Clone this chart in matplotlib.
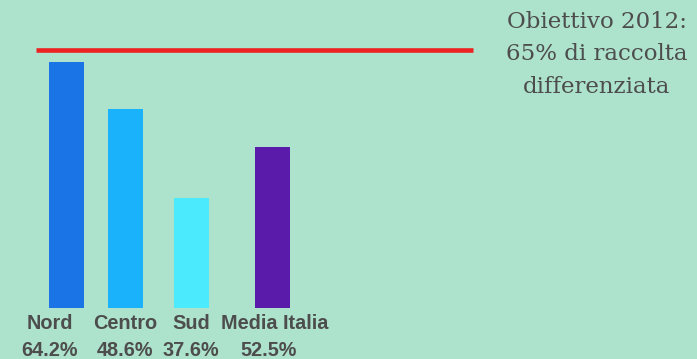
import matplotlib
matplotlib.use("Agg")
import matplotlib.pyplot as plt

# ---- data ----
categories = ["Nord", "Centro", "Sud", "Media Italia"]
percent_values = [64.2, 48.6, 37.6, 52.5]          # values printed under the bars
bar_heights = [62.0, 50.1, 27.7, 40.6]             # bar heights as drawn in the picture
target_value = 65                                   # "Obiettivo 2012"
target_text = ["Obiettivo 2012:", "65% di raccolta", "differenziata"]

# ---- layout / style ----
W, H = 697, 359
bg = "#ade2cc"
bar_colors = ["#1a74e6", "#1ab2fb", "#4beafd", "#5a1aaa"]
bar_x = [66.5, 125, 191, 272]
bar_w = 35
cat_label_x = [50, 125, 191, 275]
pct_label_x = [50, 125, 191, 269]
text_color = "#4d4d4d"

fig = plt.figure(figsize=(W / 100, H / 100), dpi=100, facecolor=bg)
ax = fig.add_axes([0, 0, 1, 1], facecolor=bg)
ax.set_xlim(0, W)
ax.set_ylim(-12.85, 77.6)
ax.axis("off")

ax.bar(bar_x, bar_heights, width=bar_w, color=bar_colors, zorder=2)

ax.plot([36, 473], [target_value, target_value], color="#ec2320",
        linewidth=3.3, solid_capstyle="butt", zorder=3)

px = 3.969  # pixels per value unit
for x, c in zip(cat_label_x, categories):
    ax.text(x, -(324 - 308) / px, c, ha="center", va="center",
            fontsize=14.3, fontweight="bold", color=text_color,
            family="Liberation Sans")
for x, v in zip(pct_label_x, percent_values):
    ax.text(x, -(350.5 - 308) / px, f"{v:.1f}%", ha="center", va="center",
            fontsize=14.3, fontweight="bold", color=text_color,
            family="Liberation Sans")

for i, line in enumerate(target_text):
    ax.text(597, (308 - (22 + 32.5 * i)) / px, line, ha="center", va="center",
            fontsize=16.5, color=text_color, family="DejaVu Serif")

fig.savefig("out.png", dpi=100, facecolor=bg)
